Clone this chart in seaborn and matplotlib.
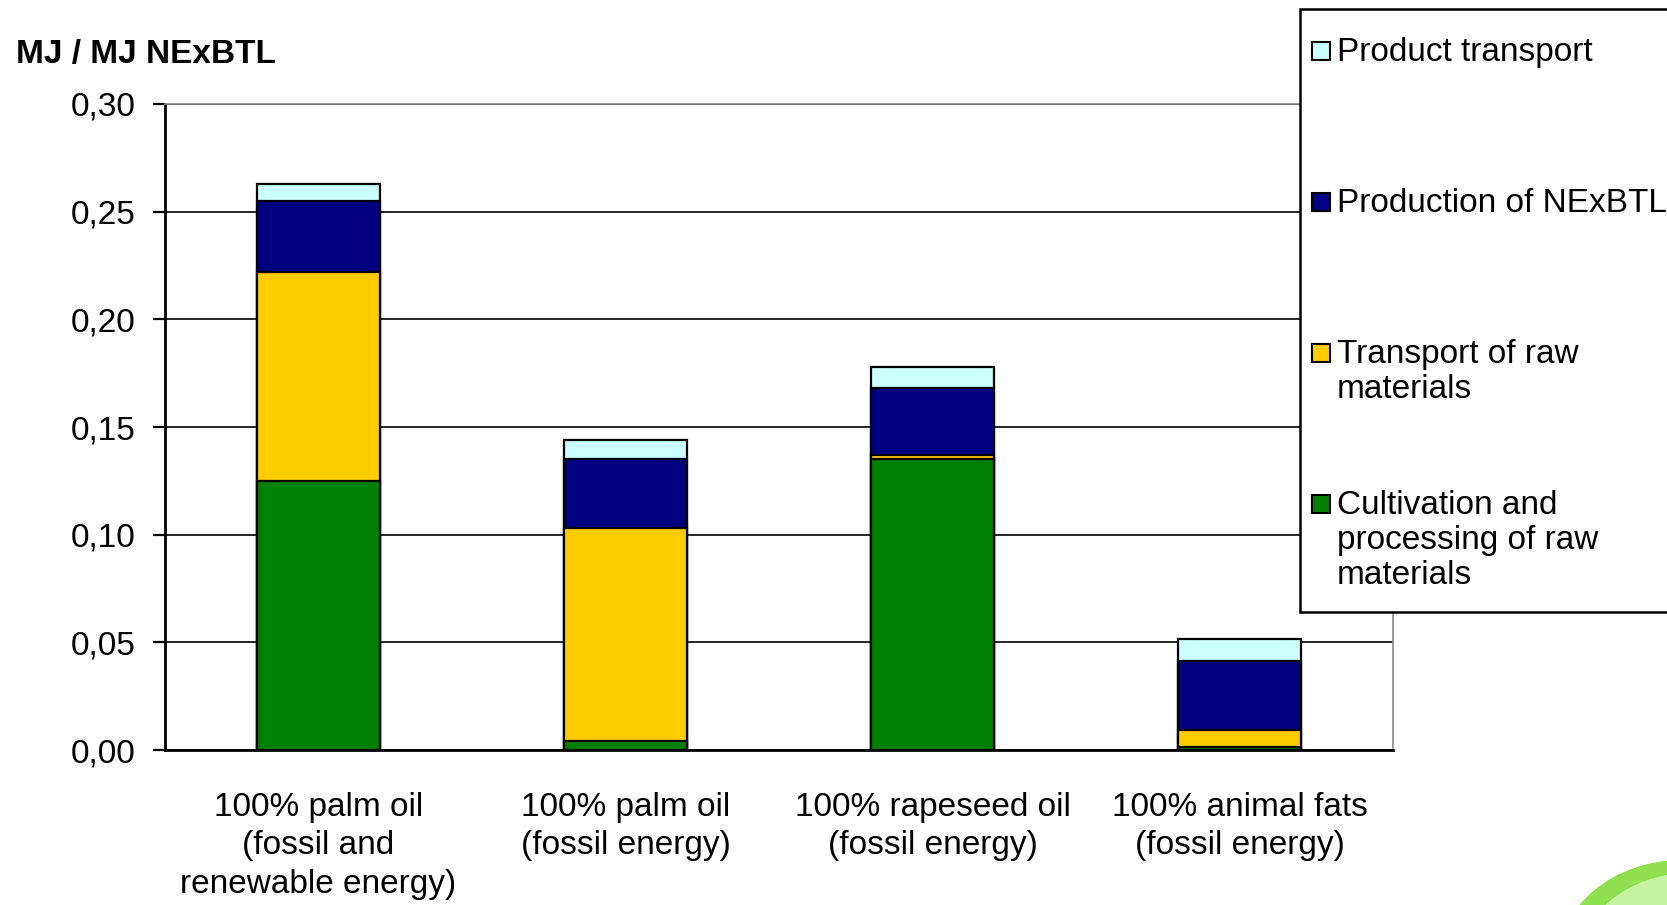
import matplotlib
matplotlib.use('Agg')
import matplotlib.pyplot as plt
from matplotlib.patches import Rectangle, Ellipse
import numpy as np
import seaborn as sns

# data
categories = ["100% palm oil\n(fossil and\nrenewable energy)",
              "100% palm oil\n(fossil energy)",
              "100% rapeseed oil\n(fossil energy)",
              "100% animal fats\n(fossil energy)"]
cultivation = [0.125, 0.004, 0.135, 0.0015]
raw_transport = [0.097, 0.099, 0.002, 0.008]
production = [0.033, 0.032, 0.031, 0.032]
product_transport = [0.008, 0.009, 0.010, 0.010]

series_names = ["Cultivation and\nprocessing of raw\nmaterials",
                "Transport of raw\nmaterials",
                "Production of NExBTL",
                "Product transport"]
series_colors = ["#008000", "#FFCC00", "#000080", "#CCFFFF"]
y_ticks = [0.0, 0.05, 0.10, 0.15, 0.20, 0.25, 0.30]
y_tick_labels = ["0,00", "0,05", "0,10", "0,15", "0,20", "0,25", "0,30"]

sns.set_style('white')
plt.rcParams['font.family'] = ['Liberation Sans', 'DejaVu Sans']
plt.rcParams['text.color'] = 'black'
plt.rcParams['xtick.color'] = 'black'
plt.rcParams['ytick.color'] = 'black'

W, H = 1667, 905
fig = plt.figure(figsize=(W / 100, H / 100), dpi=100)
ax = fig.add_axes([165 / W, 1 - 750 / H, (1393 - 165) / W, (750 - 104) / H])

# stacked bars: draw cumulative totals from the top down
stack = np.array([cultivation, raw_transport, production, product_transport])
cum = np.cumsum(stack, axis=0)
for i in reversed(range(len(series_names))):
    sns.barplot(x=categories, y=cum[i], color=series_colors[i], saturation=1,
                width=0.4, edgecolor='black', linewidth=1.6, errorbar=None,
                order=categories, ax=ax, zorder=3)

ax.set_xlim(-0.5, 3.5)
ax.set_ylim(0, 0.30)
ax.set_yticks(y_ticks)
ax.set_yticklabels(y_tick_labels, fontsize=24)
ax.set_xticks(range(len(categories)))
ax.set_xticklabels(categories, fontsize=24, linespacing=1.32)
ax.set_xticks(np.arange(-0.5, 4, 1), minor=True)
ax.tick_params(axis='x', which='major', length=0, pad=30)
ax.tick_params(axis='x', which='minor', length=10, width=1.6, direction='out', color='black')
ax.tick_params(axis='y', length=9, width=1.6, direction='out', color='black', pad=12, left=True)
ax.set_xlabel('')
ax.set_ylabel('')

ax.yaxis.grid(True, color='black', linewidth=1.2, zorder=0)
ax.set_axisbelow(True)
for side in ['left', 'bottom']:
    ax.spines[side].set_color('black')
    ax.spines[side].set_linewidth(2)
for side in ['top', 'right']:
    ax.spines[side].set_color('#888888')
    ax.spines[side].set_linewidth(1.2)

fig.text(16 / W, 1 - 55 / H, "MJ / MJ NExBTL", fontsize=24, fontweight='bold',
         va='center', ha='left')

# legend box, drawn by hand so the swatch sits on the first line of each label
fig.add_artist(Rectangle((1300 / W, 1 - 612 / H), 400 / W, (612 - 9) / H,
                         transform=fig.transFigure, facecolor='white',
                         edgecolor='black', linewidth=1.8, zorder=10, clip_on=False))
first_line_y = [504, 353, 202, 51]
for name, color, yc in zip(series_names, series_colors, first_line_y):
    fig.add_artist(Rectangle((1312 / W, 1 - (yc + 9) / H), 18 / W, 18 / H,
                             transform=fig.transFigure, facecolor=color,
                             edgecolor='black', linewidth=1.5, zorder=11))
    fig.text(1337 / W, 1 - (yc - 14) / H, name, fontsize=24, va='top', ha='left',
             linespacing=1.16, zorder=12)

# green decoration in the bottom right corner
fig.add_artist(Ellipse((1682 / W, 1 - 965 / H), 250 / W, 210 / H,
                       transform=fig.transFigure, facecolor='#8EE04E',
                       edgecolor='none', zorder=1))
fig.add_artist(Ellipse((1690 / W, 1 - 968 / H), 226 / W, 190 / H,
                       transform=fig.transFigure, facecolor='#C6F3A0',
                       edgecolor='none', zorder=1))

fig.savefig('out.png', dpi=100)
